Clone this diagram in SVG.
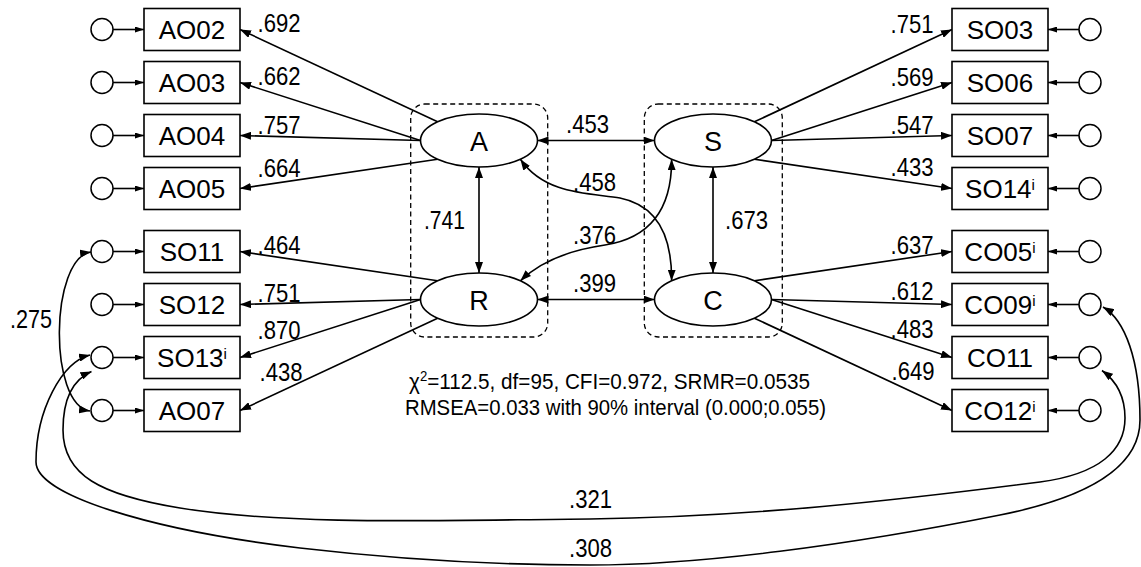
<svg xmlns="http://www.w3.org/2000/svg" width="1141" height="567" viewBox="0 0 1141 567">
<style>
.box{fill:#fff;stroke:#000;stroke-width:1.6}
.err{fill:#fff;stroke:#000;stroke-width:1.5}
.lat{fill:#fff;stroke:#000;stroke-width:1.6}
.grp{fill:none;stroke:#000;stroke-width:1.3;stroke-dasharray:5,3.5}
.bl{font-family:"Liberation Sans",Arial,sans-serif;font-size:26px;text-anchor:middle;fill:#000}
.ll{font-family:"Liberation Sans",Arial,sans-serif;font-size:27px;text-anchor:middle;fill:#000}
.num{font-family:"Liberation Sans",Arial,sans-serif;font-size:26.5px;fill:#000}
.st{font-family:"Liberation Sans",Arial,sans-serif;font-size:22px;fill:#000}
.c line,.c path{stroke:#000;stroke-width:1.6;fill:none}
.a{marker-end:url(#ah)}
.d{marker-start:url(#ah);marker-end:url(#ah)}
.s{marker-end:url(#ahs)}
</style>
<defs>
<marker id="ah" viewBox="0 0 11 8" refX="11" refY="4" markerWidth="11" markerHeight="8" orient="auto-start-reverse" markerUnits="userSpaceOnUse"><path d="M0,0L11,4L0,8z" fill="#000"/></marker>
<marker id="ahs" viewBox="0 0 9 6" refX="9" refY="3" markerWidth="9" markerHeight="6" orient="auto" markerUnits="userSpaceOnUse"><path d="M0,0L9,3L0,6z" fill="#000"/></marker>
</defs>

<g id="groups">
<rect class="grp" x="410.7" y="104" width="137" height="233" rx="14"/>
<rect class="grp" x="644.3" y="104" width="138" height="233" rx="14"/>
</g>

<g class="c" id="connectors">
<line class="s" x1="113" y1="29.5" x2="144" y2="29.5"/>
<line class="s" x1="113" y1="82.5" x2="144" y2="82.5"/>
<line class="s" x1="113" y1="135.5" x2="144" y2="135.5"/>
<line class="s" x1="113" y1="188.5" x2="144" y2="188.5"/>
<line class="s" x1="113" y1="251.5" x2="144" y2="251.5"/>
<line class="s" x1="113" y1="304.5" x2="144" y2="304.5"/>
<line class="s" x1="113" y1="357.5" x2="144" y2="357.5"/>
<line class="s" x1="113" y1="410.5" x2="144" y2="410.5"/>
<line class="s" x1="1079" y1="29.5" x2="1048" y2="29.5"/>
<line class="s" x1="1079" y1="82.5" x2="1048" y2="82.5"/>
<line class="s" x1="1079" y1="135.5" x2="1048" y2="135.5"/>
<line class="s" x1="1079" y1="188.5" x2="1048" y2="188.5"/>
<line class="s" x1="1079" y1="251.5" x2="1048" y2="251.5"/>
<line class="s" x1="1079" y1="304.5" x2="1048" y2="304.5"/>
<line class="s" x1="1079" y1="357.5" x2="1048" y2="357.5"/>
<line class="s" x1="1079" y1="410.5" x2="1048" y2="410.5"/>
<line class="a" x1="437.6" y1="121.8" x2="240" y2="29.5"/>
<line class="a" x1="420.5" y1="140.5" x2="240" y2="82.5"/>
<line class="a" x1="420.5" y1="140.5" x2="240" y2="135.5"/>
<line class="a" x1="437.6" y1="159.2" x2="240" y2="188.5"/>
<line class="a" x1="437.6" y1="280.8" x2="240" y2="251.5"/>
<line class="a" x1="420.5" y1="299.5" x2="240" y2="304.5"/>
<line class="a" x1="420.5" y1="299.5" x2="240" y2="357.5"/>
<line class="a" x1="437.6" y1="318.2" x2="240" y2="410.5"/>
<line class="a" x1="754.4" y1="121.8" x2="952" y2="29.5"/>
<line class="a" x1="771.5" y1="140.5" x2="952" y2="82.5"/>
<line class="a" x1="771.5" y1="140.5" x2="952" y2="135.5"/>
<line class="a" x1="754.4" y1="159.2" x2="952" y2="188.5"/>
<line class="a" x1="754.4" y1="280.8" x2="952" y2="251.5"/>
<line class="a" x1="771.5" y1="299.5" x2="952" y2="304.5"/>
<line class="a" x1="771.5" y1="299.5" x2="952" y2="357.5"/>
<line class="a" x1="754.4" y1="318.2" x2="952" y2="410.5"/>
<line class="d" x1="479" y1="167" x2="479" y2="273"/>
<line class="d" x1="713" y1="167" x2="713" y2="273"/>
<line class="d" x1="537.5" y1="140.5" x2="654.5" y2="140.5"/>
<line class="d" x1="537.5" y1="299.5" x2="654.5" y2="299.5"/>
<path class="d" d="M520.4,159.2 C545,195 590,193 620,198 C660,206 672,240 671.6,280.8"/>
<path class="d" d="M520.4,280.8 C540,262 570,250 605,245 C650,238 672,210 671.6,159.2"/>
<path class="d" d="M91,252 C50,258 48,405 90,411"/>
<path class="d" d="M90,355 C62,362 36,410 36,462 C36,495 150,530 300,548 C420,562 520,565 590,565 C700,565 850,545 1000,515 C1080,499 1140,470 1140,420 C1140,360 1125,320 1103,307"/>
<path class="d" d="M91.5,371.5 C72,380 63,400 63,430 C63,475 100,495 180,508 C290,526 450,520 590,519 C750,517 900,500 1040,482 C1100,474 1125,450 1125,418 C1125,395 1115,380 1102,370.5"/>
</g>

<g id="errors">
<circle class="err" cx="102" cy="29.5" r="11"/>
<circle class="err" cx="102" cy="82.5" r="11"/>
<circle class="err" cx="102" cy="135.5" r="11"/>
<circle class="err" cx="102" cy="188.5" r="11"/>
<circle class="err" cx="102" cy="251.5" r="11"/>
<circle class="err" cx="102" cy="304.5" r="11"/>
<circle class="err" cx="102" cy="357.5" r="11"/>
<circle class="err" cx="102" cy="410.5" r="11"/>
<circle class="err" cx="1090" cy="29.5" r="11"/>
<circle class="err" cx="1090" cy="82.5" r="11"/>
<circle class="err" cx="1090" cy="135.5" r="11"/>
<circle class="err" cx="1090" cy="188.5" r="11"/>
<circle class="err" cx="1090" cy="251.5" r="11"/>
<circle class="err" cx="1090" cy="304.5" r="11"/>
<circle class="err" cx="1090" cy="357.5" r="11"/>
<circle class="err" cx="1090" cy="410.5" r="11"/>
</g>

<g id="AO02"><rect class="box" x="144" y="8.5" width="96" height="42"/><text class="bl" x="192" y="39">AO02</text></g>
<g id="AO03"><rect class="box" x="144" y="61.5" width="96" height="42"/><text class="bl" x="192" y="92">AO03</text></g>
<g id="AO04"><rect class="box" x="144" y="114.5" width="96" height="42"/><text class="bl" x="192" y="145">AO04</text></g>
<g id="AO05"><rect class="box" x="144" y="167.5" width="96" height="42"/><text class="bl" x="192" y="198">AO05</text></g>
<g id="SO11"><rect class="box" x="144" y="230.5" width="96" height="42"/><text class="bl" x="192" y="261">SO11</text></g>
<g id="SO12"><rect class="box" x="144" y="283.5" width="96" height="42"/><text class="bl" x="192" y="314">SO12</text></g>
<g id="SO13"><rect class="box" x="144" y="336.5" width="96" height="42"/><text class="bl" x="192" y="367">SO13<tspan font-size="15" dy="-8">i</tspan></text></g>
<g id="AO07"><rect class="box" x="144" y="389.5" width="96" height="42"/><text class="bl" x="192" y="420">AO07</text></g>

<g id="SO03"><rect class="box" x="952" y="8.5" width="96" height="42"/><text class="bl" x="1000" y="39">SO03</text></g>
<g id="SO06"><rect class="box" x="952" y="61.5" width="96" height="42"/><text class="bl" x="1000" y="92">SO06</text></g>
<g id="SO07"><rect class="box" x="952" y="114.5" width="96" height="42"/><text class="bl" x="1000" y="145">SO07</text></g>
<g id="SO14"><rect class="box" x="952" y="167.5" width="96" height="42"/><text class="bl" x="1000" y="198">SO14<tspan font-size="15" dy="-8">i</tspan></text></g>
<g id="CO05"><rect class="box" x="952" y="230.5" width="96" height="42"/><text class="bl" x="1000" y="261">CO05<tspan font-size="15" dy="-8">i</tspan></text></g>
<g id="CO09"><rect class="box" x="952" y="283.5" width="96" height="42"/><text class="bl" x="1000" y="314">CO09<tspan font-size="15" dy="-8">i</tspan></text></g>
<g id="CO11"><rect class="box" x="952" y="336.5" width="96" height="42"/><text class="bl" x="1000" y="367">CO11</text></g>
<g id="CO12"><rect class="box" x="952" y="389.5" width="96" height="42"/><text class="bl" x="1000" y="420">CO12<tspan font-size="15" dy="-8">i</tspan></text></g>

<g id="A"><ellipse class="lat" cx="479" cy="140.5" rx="58.5" ry="26.5"/><text class="ll" x="479" y="150.5">A</text></g>
<g id="R"><ellipse class="lat" cx="479" cy="299.5" rx="58.5" ry="26.5"/><text class="ll" x="479" y="309.5">R</text></g>
<g id="S"><ellipse class="lat" cx="713" cy="140.5" rx="58.5" ry="26.5"/><text class="ll" x="713" y="150.5">S</text></g>
<g id="C"><ellipse class="lat" cx="713" cy="299.5" rx="58.5" ry="26.5"/><text class="ll" x="713" y="309.5">C</text></g>

<g id="labels">
<text class="num" x="257.5" y="31.5" textLength="43" lengthAdjust="spacingAndGlyphs">.692</text>
<text class="num" x="257.5" y="85" textLength="43" lengthAdjust="spacingAndGlyphs">.662</text>
<text class="num" x="257.5" y="133.5" textLength="43" lengthAdjust="spacingAndGlyphs">.757</text>
<text class="num" x="257.5" y="176.5" textLength="43" lengthAdjust="spacingAndGlyphs">.664</text>
<text class="num" x="257.5" y="254" textLength="43" lengthAdjust="spacingAndGlyphs">.464</text>
<text class="num" x="257.5" y="301.5" textLength="43" lengthAdjust="spacingAndGlyphs">.751</text>
<text class="num" x="257.5" y="339" textLength="43" lengthAdjust="spacingAndGlyphs">.870</text>
<text class="num" x="259.5" y="380.5" textLength="43" lengthAdjust="spacingAndGlyphs">.438</text>
<text class="num" x="890.5" y="32.5" textLength="43" lengthAdjust="spacingAndGlyphs">.751</text>
<text class="num" x="890.5" y="85.5" textLength="43" lengthAdjust="spacingAndGlyphs">.569</text>
<text class="num" x="890.5" y="133.5" textLength="43" lengthAdjust="spacingAndGlyphs">.547</text>
<text class="num" x="890.5" y="176" textLength="43" lengthAdjust="spacingAndGlyphs">.433</text>
<text class="num" x="890.5" y="254" textLength="43" lengthAdjust="spacingAndGlyphs">.637</text>
<text class="num" x="890.5" y="300" textLength="43" lengthAdjust="spacingAndGlyphs">.612</text>
<text class="num" x="890.5" y="337.5" textLength="43" lengthAdjust="spacingAndGlyphs">.483</text>
<text class="num" x="891.5" y="380" textLength="43" lengthAdjust="spacingAndGlyphs">.649</text>
<text class="num" x="566" y="133" textLength="43" lengthAdjust="spacingAndGlyphs">.453</text>
<text class="num" x="573" y="292" textLength="43" lengthAdjust="spacingAndGlyphs">.399</text>
<text class="num" x="573" y="191" textLength="43" lengthAdjust="spacingAndGlyphs">.458</text>
<text class="num" x="573" y="244" textLength="43" lengthAdjust="spacingAndGlyphs">.376</text>
<text class="num" x="424" y="229" textLength="41" lengthAdjust="spacingAndGlyphs">.741</text>
<text class="num" x="725" y="229" textLength="43" lengthAdjust="spacingAndGlyphs">.673</text>
<text class="num" x="10" y="328" textLength="42" lengthAdjust="spacingAndGlyphs">.275</text>
<text class="num" x="569" y="508" textLength="43" lengthAdjust="spacingAndGlyphs">.321</text>
<text class="num" x="569" y="557" textLength="43" lengthAdjust="spacingAndGlyphs">.308</text>
<text class="st" x="409" y="389" textLength="401" lengthAdjust="spacingAndGlyphs">χ<tspan font-size="14" dy="-8">2</tspan><tspan dy="8">=112.5, df=95, CFI=0.972, SRMR=0.0535</tspan></text>
<text class="st" x="405" y="414.5" textLength="421" lengthAdjust="spacingAndGlyphs">RMSEA=0.033 with 90% interval (0.000;0.055)</text>
</g>
</svg>
